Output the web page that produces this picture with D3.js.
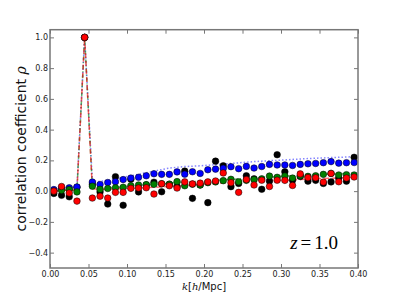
<!DOCTYPE html>
<html>
<head>
<meta charset="utf-8">
<script src="https://cdn.jsdelivr.net/npm/d3@7"></script>
<style>
  body { margin: 0; background: #fff; }
  svg { display: block; }
</style>
</head>
<body>
<script>
// k bins [h/Mpc]
var kBins = [0.005, 0.015, 0.025, 0.035, 0.045, 0.055, 0.065, 0.075, 0.085, 0.095,
             0.105, 0.115, 0.125, 0.135, 0.145, 0.155, 0.165, 0.175, 0.185, 0.195,
             0.205, 0.215, 0.225, 0.235, 0.245, 0.255, 0.265, 0.275, 0.285, 0.295,
             0.305, 0.315, 0.325, 0.335, 0.345, 0.355, 0.365, 0.375, 0.385, 0.395];

// measured correlation coefficients (dots)
var rhoBlack = [-0.015, -0.027, -0.037, 0.025, 1.0, 0.045, -0.005, -0.084, 0.094, -0.092,
                0.077, -0.005, 0.04, 0.058, -0.004, 0.045, 0.03, 0.13, -0.047, 0.04,
                -0.075, 0.195, 0.165, 0.029, 0.05, 0.1, 0.08, 0.012, 0.065, 0.237,
                0.126, 0.07, 0.095, 0.065, 0.07, 0.05, 0.06, 0.085, 0.065, 0.22];
var rhoBlue = [0.01, 0.02, 0.022, 0.027, 1.0, 0.059, 0.043, 0.056, 0.061, 0.075,
               0.085, 0.09, 0.1, 0.113, 0.109, 0.109, 0.125, 0.11, 0.126, 0.115,
               0.139, 0.143, 0.148, 0.159, 0.146, 0.161, 0.15, 0.16, 0.174, 0.17,
               0.17, 0.167, 0.174, 0.178, 0.18, 0.185, 0.192, 0.182, 0.185, 0.186];
var rhoGreen = [0.0, 0.005, 0.01, -0.005, 1.0, 0.032, 0.012, 0.017, 0.022, 0.025,
                0.035, 0.04, 0.042, 0.044, 0.048, 0.045, 0.062, 0.035, 0.045, 0.04,
                0.055, 0.06, 0.068, 0.077, 0.061, 0.07, 0.075, 0.08, 0.098, 0.09,
                0.098, 0.085, 0.1, 0.096, 0.1, 0.109, 0.115, 0.105, 0.107, 0.105];
var rhoRed = [0.0, 0.03, -0.012, -0.065, 1.0, -0.045, -0.033, -0.045, -0.008, -0.008,
              0.018, 0.02, 0.022, -0.019, 0.048, 0.035, 0.02, 0.06, 0.047, 0.052,
              0.06, 0.066, 0.118, 0.055, -0.008, 0.075, 0.04, 0.071, 0.03, 0.071,
              0.07, 0.037, 0.112, 0.088, 0.087, 0.059, 0.115, 0.061, 0.085, 0.092];

// model curves (lines)
var lineBlue = [0.01, 0.02, 0.025, 0.03, 1.0, 0.068, 0.062, 0.07, 0.08, 0.09,
                0.1, 0.11, 0.12, 0.13, 0.14, 0.15, 0.155, 0.16, 0.162, 0.165,
                0.168, 0.172, 0.176, 0.18, 0.184, 0.188, 0.192, 0.195, 0.198, 0.2,
                0.203, 0.206, 0.209, 0.212, 0.214, 0.216, 0.218, 0.22, 0.222, 0.224];
var lineGreen = [0.0, 0.005, 0.008, 0.008, 1.0, 0.025, 0.02, 0.022, 0.025, 0.028,
                 0.032, 0.036, 0.04, 0.044, 0.048, 0.052, 0.055, 0.058, 0.061, 0.064,
                 0.067, 0.07, 0.073, 0.076, 0.079, 0.082, 0.085, 0.088, 0.091, 0.094,
                 0.097, 0.1, 0.102, 0.104, 0.106, 0.108, 0.11, 0.112, 0.114, 0.116];
var lineRed = [0.0, 0.005, 0.005, 0.005, 1.0, 0.015, 0.012, 0.012, 0.015, 0.016,
               0.018, 0.02, 0.022, 0.025, 0.028, 0.031, 0.034, 0.037, 0.04, 0.043,
               0.046, 0.049, 0.052, 0.055, 0.058, 0.061, 0.063, 0.066, 0.068, 0.07,
               0.072, 0.074, 0.076, 0.078, 0.08, 0.082, 0.084, 0.086, 0.088, 0.09];

var xTicks = [0.00, 0.05, 0.10, 0.15, 0.20, 0.25, 0.30, 0.35, 0.40];
var yTicks = [-0.4, -0.2, 0.0, 0.2, 0.4, 0.6, 0.8, 1.0];

var W = 399, H = 299;
var padL = 50, padR = 358, padT = 29.7, padB = 268;

var svg = d3.select("body").append("svg")
    .attr("width", W)
    .attr("height", H);

var x = d3.scaleLinear().domain([0, 0.4]).range([padL, padR]);
var y = d3.scaleLinear().domain([-0.5, 1.05]).range([padB, padT]);

var tickColor = "#777";

// axes (ticks pointing inward)
var gx = svg.append("g")
    .attr("transform", "translate(0," + padB + ")")
    .call(d3.axisBottom(x).tickValues(xTicks).tickFormat(d3.format(".2f"))
        .tickSizeInner(-4).tickSizeOuter(0).tickPadding(3));
var gxTop = svg.append("g")
    .attr("transform", "translate(0," + padT + ")")
    .call(d3.axisTop(x).tickValues(xTicks).tickFormat("")
        .tickSizeInner(-4).tickSizeOuter(0));
var gy = svg.append("g")
    .attr("transform", "translate(" + padL + ",0)")
    .call(d3.axisLeft(y).tickValues(yTicks).tickFormat(d3.format(".1f"))
        .tickSizeInner(-4).tickSizeOuter(0).tickPadding(2));
var gyRight = svg.append("g")
    .attr("transform", "translate(" + padR + ",0)")
    .call(d3.axisRight(y).tickValues(yTicks).tickFormat("")
        .tickSizeInner(-4).tickSizeOuter(0));

[gx, gxTop, gy, gyRight].forEach(function(g) {
    g.select(".domain").remove();
    g.selectAll(".tick line").attr("stroke", tickColor).attr("stroke-width", 1);
    g.selectAll(".tick text")
        .attr("fill", "#222")
        .style("font-family", "DejaVu Sans, sans-serif")
        .style("font-size", "8px");
});

// data layer
var plot = svg.append("g");

var lineGen = d3.line()
    .x(function(d) { return x(d[0]); })
    .y(function(d) { return y(d[1]); });

var lines = [
    { vals: lineBlue, color: "#3333ff", dash: "1.5,2" },
    { vals: lineGreen, color: "#008000", dash: "4,2,1,2" },
    { vals: lineRed, color: "#ff0000", dash: "5,3" }
];
lines.forEach(function(l) {
    plot.append("path")
        .datum(d3.zip(kBins, l.vals))
        .attr("d", lineGen)
        .attr("fill", "none")
        .attr("stroke", l.color)
        .attr("stroke-opacity", 0.6)
        .attr("stroke-width", 1.5)
        .attr("stroke-dasharray", l.dash);
});

var dots = [
    { vals: rhoBlack, color: "#000000" },
    { vals: rhoBlue, color: "#0000ff" },
    { vals: rhoGreen, color: "#007f00" },
    { vals: rhoRed, color: "#ff0000" }
];
dots.forEach(function(s) {
    plot.append("g").selectAll("circle")
        .data(d3.zip(kBins, s.vals))
        .enter()
        .append("circle")
        .attr("cx", function(d) { return x(d[0]); })
        .attr("cy", function(d) { return y(d[1]); })
        .attr("r", 3.3)
        .attr("fill", s.color)
        .attr("stroke", "#000")
        .attr("stroke-width", 0.5);
});

// frame
svg.append("rect")
    .attr("x", padL)
    .attr("y", padT)
    .attr("width", padR - padL)
    .attr("height", padB - padT)
    .attr("fill", "none")
    .attr("stroke", tickColor)
    .attr("stroke-width", 1.5);

// labels
svg.append("text")
    .attr("transform", "translate(21," + ((padT + padB) / 2) + ") rotate(-90)")
    .attr("text-anchor", "middle")
    .attr("dominant-baseline", "central")
    .style("font-family", "DejaVu Sans, sans-serif")
    .style("font-size", "14px")
    .attr("fill", "#111")
    .html('correlation coefficient <tspan font-family="DejaVu Serif, serif" font-style="italic">&#961;</tspan>');

var xl = svg.append("text")
    .attr("x", (padL + padR) / 2)
    .attr("y", 290)
    .attr("text-anchor", "middle")
    .style("font-family", "DejaVu Sans, sans-serif")
    .style("font-size", "10px")
    .attr("fill", "#111");
xl.append("tspan").attr("font-family", "DejaVu Serif, serif").attr("font-style", "italic").text("k");
xl.append("tspan").text("[");
xl.append("tspan").attr("font-family", "DejaVu Serif, serif").attr("font-style", "italic").text("h");
xl.append("tspan").text("/Mpc]");

var zl = svg.append("text")
    .attr("x", 338)
    .attr("y", 249)
    .attr("text-anchor", "end")
    .style("font-family", "Liberation Serif, serif")
    .style("font-size", "19px")
    .attr("fill", "#000");
zl.append("tspan").attr("font-style", "italic").text("z");
zl.append("tspan").attr("dx", 3).text("=");
zl.append("tspan").attr("dx", 3).text("1.0");
</script>
</body>
</html>
